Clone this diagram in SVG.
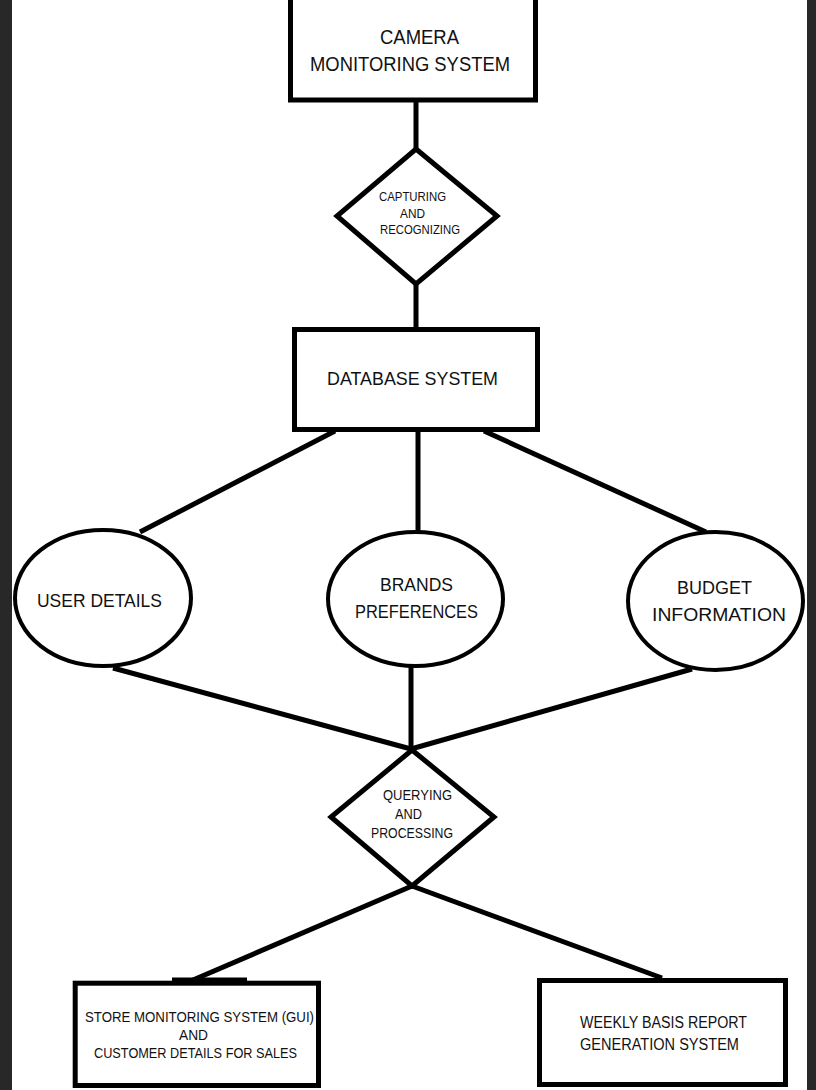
<svg xmlns="http://www.w3.org/2000/svg" width="816" height="1090" viewBox="0 0 816 1090">
<style>
.shape{fill:#fff;stroke:#000;stroke-width:5}
.ell{fill:#fff;stroke:#000;stroke-width:4}
.conn line{stroke:#000;stroke-width:5;stroke-linecap:butt}
text{font-family:"Liberation Sans",Arial,sans-serif;fill:#111}
.t20{font-size:19.5px}
.t18{font-size:18px}
.t19{font-size:19px}
.t13{font-size:13.5px}
.t14{font-size:14px}
.t15{font-size:15px}
.t16{font-size:16px}
</style>
<rect x="0" y="0" width="816" height="1090" fill="#fff"/>
<rect x="0" y="0" width="12" height="1090" fill="#282828"/>
<rect x="807" y="0" width="9" height="1090" fill="#282828"/>
<g id="connectors" class="conn">
<line x1="416" y1="100" x2="416" y2="149"/>
<line x1="416" y1="284" x2="416" y2="330"/>
<line x1="335" y1="431" x2="140" y2="532"/>
<line x1="418" y1="431" x2="418" y2="531"/>
<line x1="484" y1="431" x2="706" y2="532"/>
<line x1="113" y1="668" x2="411" y2="749"/>
<line x1="411" y1="667" x2="411" y2="749"/>
<line x1="692" y1="669" x2="411" y2="749"/>
<line x1="412" y1="886" x2="193" y2="980"/>
<line x1="412" y1="886" x2="662" y2="978"/>
<line x1="172" y1="980" x2="247" y2="980"/>
</g>
<g id="camera">
<rect class="shape" x="290.5" y="-10" width="245" height="110"/>
<text class="t20" x="380" y="44" textLength="79" lengthAdjust="spacingAndGlyphs">CAMERA</text>
<text class="t20" x="310" y="71" textLength="200" lengthAdjust="spacingAndGlyphs">MONITORING SYSTEM</text>
</g>
<g id="capturing">
<polygon class="shape" points="416,149 497,216 416,284 337,216"/>
<text class="t13" x="379" y="201" textLength="67" lengthAdjust="spacingAndGlyphs">CAPTURING</text>
<text class="t13" x="400" y="218" textLength="25" lengthAdjust="spacingAndGlyphs">AND</text>
<text class="t13" x="380" y="234" textLength="80" lengthAdjust="spacingAndGlyphs">RECOGNIZING</text>
</g>
<g id="database">
<rect class="shape" x="294.5" y="329.5" width="243" height="100"/>
<text class="t18" x="327" y="385" textLength="171" lengthAdjust="spacingAndGlyphs">DATABASE SYSTEM</text>
</g>
<g id="user">
<ellipse class="ell" cx="103" cy="598" rx="88" ry="68"/>
<text class="t19" x="37" y="607" textLength="125" lengthAdjust="spacingAndGlyphs">USER DETAILS</text>
</g>
<g id="brands">
<ellipse class="ell" cx="415.5" cy="599" rx="87.5" ry="67"/>
<text class="t19" x="380" y="591" textLength="73" lengthAdjust="spacingAndGlyphs">BRANDS</text>
<text class="t19" x="355" y="618" textLength="123" lengthAdjust="spacingAndGlyphs">PREFERENCES</text>
</g>
<g id="budget">
<ellipse class="ell" cx="715.5" cy="601" rx="87.5" ry="69"/>
<text class="t19" x="677" y="594" textLength="75" lengthAdjust="spacingAndGlyphs">BUDGET</text>
<text class="t19" x="652" y="621" textLength="134" lengthAdjust="spacingAndGlyphs">INFORMATION</text>
</g>
<g id="querying">
<polygon class="shape" points="412,750 494,817 412,886 331,817"/>
<text class="t14" x="383" y="800" textLength="69" lengthAdjust="spacingAndGlyphs">QUERYING</text>
<text class="t14" x="395" y="819" textLength="27" lengthAdjust="spacingAndGlyphs">AND</text>
<text class="t14" x="371" y="838" textLength="82" lengthAdjust="spacingAndGlyphs">PROCESSING</text>
</g>
<g id="store">
<rect class="shape" x="75.2" y="983.2" width="243.3" height="102.3"/>
<text class="t15" x="85" y="1022" textLength="229" lengthAdjust="spacingAndGlyphs">STORE MONITORING SYSTEM (GUI)</text>
<text class="t15" x="179" y="1040" textLength="29" lengthAdjust="spacingAndGlyphs">AND</text>
<text class="t15" x="94" y="1058" textLength="203" lengthAdjust="spacingAndGlyphs">CUSTOMER DETAILS FOR SALES</text>
</g>
<g id="weekly">
<rect class="shape" x="539.5" y="980.5" width="246" height="104"/>
<text class="t16" x="580" y="1028" textLength="167" lengthAdjust="spacingAndGlyphs">WEEKLY BASIS REPORT</text>
<text class="t16" x="580" y="1050" textLength="159" lengthAdjust="spacingAndGlyphs">GENERATION SYSTEM</text>
</g>
</svg>
